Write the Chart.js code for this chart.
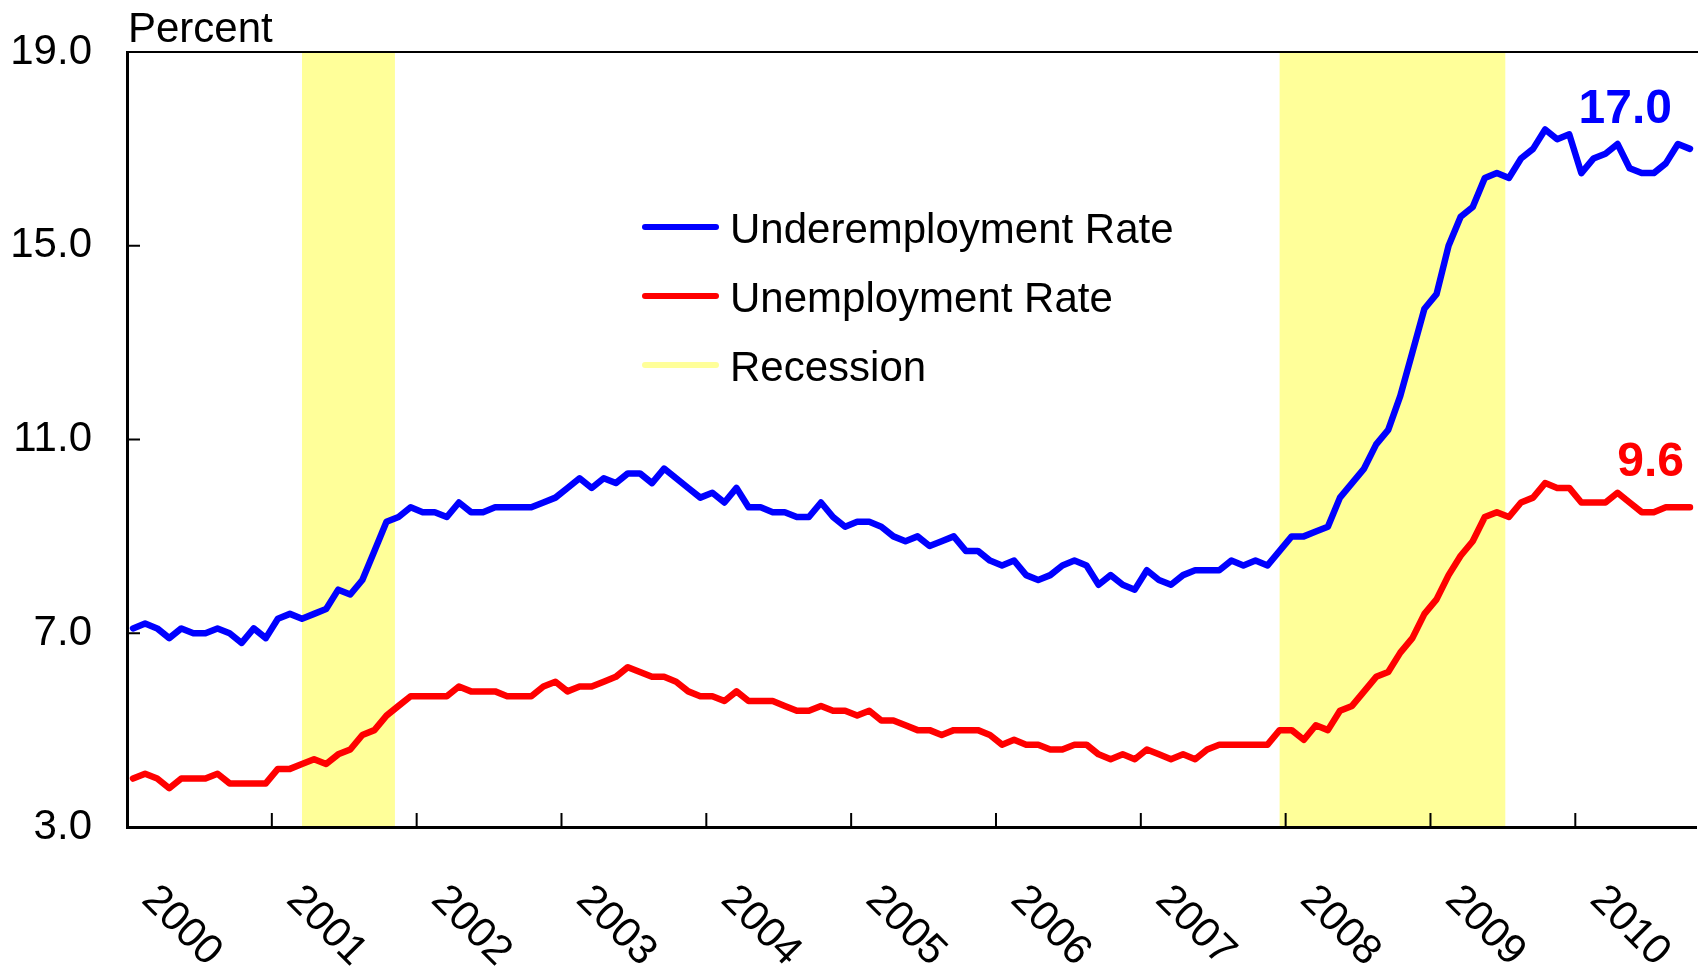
<!DOCTYPE html>
<html>
<head>
<meta charset="utf-8">
<script src="https://cdn.jsdelivr.net/npm/chart.js@4.4.1/dist/chart.umd.min.js"></script>
<style>
  html, body { margin: 0; padding: 0; background: #fff; }
  #wrap { width: 1698px; height: 968px; position: relative; }
</style>
</head>
<body>
<div id="wrap"><canvas id="chart"></canvas></div>
<script>
const years = ["2000", "2001", "2002", "2003", "2004", "2005", "2006", "2007", "2008", "2009", "2010"];

// monthly, Jan 2000 .. Oct 2010
const underemployment = [
  7.1, 7.2, 7.1, 6.9, 7.1, 7.0, 7.0, 7.1, 7.0, 6.8, 7.1, 6.9,
  7.3, 7.4, 7.3, 7.4, 7.5, 7.9, 7.8, 8.1, 8.7, 9.3, 9.4, 9.6,
  9.5, 9.5, 9.4, 9.7, 9.5, 9.5, 9.6, 9.6, 9.6, 9.6, 9.7, 9.8,
  10.0, 10.2, 10.0, 10.2, 10.1, 10.3, 10.3, 10.1, 10.4, 10.2, 10.0, 9.8,
  9.9, 9.7, 10.0, 9.6, 9.6, 9.5, 9.5, 9.4, 9.4, 9.7, 9.4, 9.2,
  9.3, 9.3, 9.2, 9.0, 8.9, 9.0, 8.8, 8.9, 9.0, 8.7, 8.7, 8.5,
  8.4, 8.5, 8.2, 8.1, 8.2, 8.4, 8.5, 8.4, 8.0, 8.2, 8.0, 7.9,
  8.3, 8.1, 8.0, 8.2, 8.3, 8.3, 8.3, 8.5, 8.4, 8.5, 8.4, 8.7,
  9.0, 9.0, 9.1, 9.2, 9.8, 10.1, 10.4, 10.9, 11.2, 11.9, 12.8, 13.7,
  14.0, 15.0, 15.6, 15.8, 16.4, 16.5, 16.4, 16.8, 17.0, 17.4, 17.2, 17.3,
  16.5, 16.8, 16.9, 17.1, 16.6, 16.5, 16.5, 16.7, 17.1, 17.0
];
const unemployment = [
  4.0, 4.1, 4.0, 3.8, 4.0, 4.0, 4.0, 4.1, 3.9, 3.9, 3.9, 3.9,
  4.2, 4.2, 4.3, 4.4, 4.3, 4.5, 4.6, 4.9, 5.0, 5.3, 5.5, 5.7,
  5.7, 5.7, 5.7, 5.9, 5.8, 5.8, 5.8, 5.7, 5.7, 5.7, 5.9, 6.0,
  5.8, 5.9, 5.9, 6.0, 6.1, 6.3, 6.2, 6.1, 6.1, 6.0, 5.8, 5.7,
  5.7, 5.6, 5.8, 5.6, 5.6, 5.6, 5.5, 5.4, 5.4, 5.5, 5.4, 5.4,
  5.3, 5.4, 5.2, 5.2, 5.1, 5.0, 5.0, 4.9, 5.0, 5.0, 5.0, 4.9,
  4.7, 4.8, 4.7, 4.7, 4.6, 4.6, 4.7, 4.7, 4.5, 4.4, 4.5, 4.4,
  4.6, 4.5, 4.4, 4.5, 4.4, 4.6, 4.7, 4.7, 4.7, 4.7, 4.7, 5.0,
  5.0, 4.8, 5.1, 5.0, 5.4, 5.5, 5.8, 6.1, 6.2, 6.6, 6.9, 7.4,
  7.7, 8.2, 8.6, 8.9, 9.4, 9.5, 9.4, 9.7, 9.8, 10.1, 10.0, 10.0,
  9.7, 9.7, 9.7, 9.9, 9.7, 9.5, 9.5, 9.6, 9.6, 9.6
];

const recessionStart = ["2001-03", "2007-12"];
const recessionEnd = ["2001-10", "2009-06"];
const yTicks = [3, 7, 11, 15, 19];

const months = [];
years.forEach(y => {
  for (let m = 1; m <= 12; m++) months.push(y + "-" + String(m).padStart(2, "0"));
});
months.length = underemployment.length;

const FONT = '"Liberation Sans", Arial, sans-serif';
const BLUE = "#0000FF", RED = "#FF0000", YELLOW = "#FFFF99";

const legendItems = [
  { text: "Underemployment Rate", color: BLUE },
  { text: "Unemployment Rate", color: RED },
  { text: "Recession", color: YELLOW }
];

const decor = {
  id: "decor",
  beforeDatasetsDraw(chart) {
    const { ctx, chartArea: a, scales: { x } } = chart;
    ctx.save();
    ctx.fillStyle = YELLOW;
    recessionStart.forEach((s, k) => {
      const x0 = x.getPixelForValue(months.indexOf(s));
      const x1 = x.getPixelForValue(months.indexOf(recessionEnd[k]) + 0.7);
      ctx.fillRect(x0, a.top, x1 - x0, a.bottom - a.top);
    });
    ctx.restore();
  },
  afterDatasetsDraw(chart) {
    const { ctx, chartArea: a, scales: { x, y } } = chart;
    ctx.save();
    ctx.strokeStyle = "#000";
    ctx.lineWidth = 2;
    ctx.beginPath();
    // year boundary ticks, pointing up into the plot
    years.slice(1).forEach(yr => {
      const px = x.getPixelForValue(months.indexOf(yr + "-01") - 0.5);
      ctx.moveTo(px, a.bottom);
      ctx.lineTo(px, a.bottom - 14);
    });
    yTicks.forEach(v => {
      const py = y.getPixelForValue(v);
      ctx.moveTo(a.left, py);
      ctx.lineTo(a.left + 13, py);
    });
    ctx.stroke();
    // top frame line
    ctx.beginPath();
    ctx.moveTo(a.left, a.top);
    ctx.lineTo(a.right + 2, a.top);
    ctx.stroke();
    ctx.restore();
  },
  afterDraw(chart) {
    const { ctx, chartArea: a, scales: { x, y } } = chart;
    ctx.save();
    ctx.fillStyle = "#000";
    ctx.font = "42px " + FONT;
    ctx.textAlign = "left";
    ctx.textBaseline = "alphabetic";
    ctx.fillText("Percent", a.left + 1, a.top - 10);

    // rotated year labels
    years.forEach(yr => {
      const i0 = months.indexOf(yr + "-01");
      const cx = x.getPixelForValue(i0 + 5.5) - 18;
      const cy = a.bottom + 99;
      ctx.save();
      ctx.translate(cx, cy);
      ctx.rotate(Math.PI / 4);
      ctx.textAlign = "center";
      ctx.textBaseline = "middle";
      ctx.fillText(yr, 0, 0);
      ctx.restore();
    });

    // legend
    legendItems.forEach((it, k) => {
      const ly = 227 + k * 69;
      ctx.strokeStyle = it.color;
      ctx.lineWidth = 6;
      ctx.lineCap = "round";
      ctx.beginPath();
      ctx.moveTo(645, ly);
      ctx.lineTo(716, ly);
      ctx.stroke();
      ctx.fillStyle = "#000";
      ctx.fillText(it.text, 730, ly + 16);
    });

    // end-of-series value labels
    const last = underemployment.length - 1;
    const lx = x.getPixelForValue(last);
    ctx.font = "bold 48px " + FONT;
    ctx.textAlign = "right";
    ctx.fillStyle = BLUE;
    ctx.fillText(underemployment[last].toFixed(1), lx - 18, y.getPixelForValue(underemployment[last]) - 26);
    ctx.fillStyle = RED;
    ctx.fillText(unemployment[last].toFixed(1), lx - 6, y.getPixelForValue(unemployment[last]) - 31);
    ctx.restore();
  }
};

new Chart(document.getElementById("chart"), {
  type: "line",
  data: {
    labels: months,
    datasets: [
      { label: "Underemployment Rate", data: underemployment, borderColor: BLUE, borderWidth: 6.5, pointRadius: 0, tension: 0, borderJoinStyle: "round", borderCapStyle: "round" },
      { label: "Unemployment Rate", data: unemployment, borderColor: RED, borderWidth: 6.5, pointRadius: 0, tension: 0, borderJoinStyle: "round", borderCapStyle: "round" }
    ]
  },
  options: {
    responsive: true,
    maintainAspectRatio: false,
    animation: false,
    layout: { padding: { top: 52, right: 2, left: 0, bottom: 0 } },
    plugins: { legend: { display: false }, tooltip: { enabled: false } },
    scales: {
      x: {
        type: "category",
        offset: true,
        grid: { display: false },
        border: { display: true, color: "#000", width: 3, z: 1 },
        ticks: { display: false },
        afterFit: s => { s.height = 141; }
      },
      y: {
        min: 3,
        max: 19,
        grid: { display: false, drawTicks: false },
        border: { display: true, color: "#000", width: 3, z: 1 },
        afterBuildTicks: s => { s.ticks = yTicks.map(v => ({ value: v })); },
        ticks: {
          color: "#000",
          padding: 35,
          font: { family: FONT, size: 42 },
          callback: v => Number(v).toFixed(1)
        },
        afterFit: s => { s.width = 127; s.paddingTop = 0; s.paddingBottom = 0; }
      }
    }
  },
  plugins: [decor]
});
</script>
</body>
</html>
